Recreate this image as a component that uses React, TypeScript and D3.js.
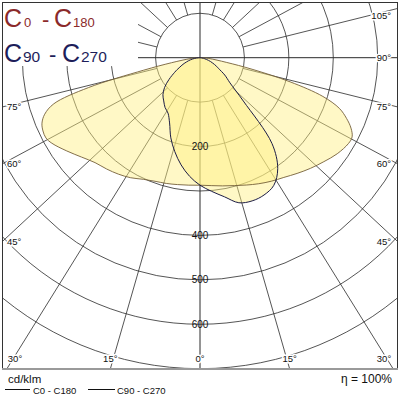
import React from 'react';
import * as d3 from 'd3';

// Gamma angles (degrees from nadir) for every half-plane
const gammaAngles = [0, 5, 10, 15, 20, 25, 30, 35, 40, 45, 50, 55, 60, 62.5, 65, 67.5, 70, 72.5, 75, 77.5, 80, 85, 90];
// Luminous intensity, cd/klm
const c0Values = [287, 289, 293, 298, 305, 313, 321, 329, 340, 352, 364, 377, 386, 386, 375, 357, 334, 290, 210, 120, 60, 20, 0];
const c180Values = [287, 288, 290, 293, 296, 302, 312, 320, 327, 334, 348, 366, 385, 391, 390, 385, 372, 345, 260, 130, 65, 20, 0];
const c90Values = [287, 302, 318, 338, 343, 341, 332, 305, 252, 138, 88, 68, 48, 42, 36, 30, 25, 20, 15, 11, 8, 3, 0];
const c270Values = [287, 268, 245, 219, 192, 162, 144, 137, 127, 118, 104, 85, 66, 58, 50, 44, 38, 32, 27, 22, 17, 8, 0];

const ringValues = [100, 200, 300, 400, 500, 600, 700];
const ringLabels = ['200', '400', '500', '600'];
const rayAngles = [15, 30, 45, 60, 75, 105, 120, 135, 150, 165];
const angleLabels = [0, 15, 30, 45, 60, 75, 90, 105];
const unitLabel = 'cd/klm';
const efficiencyLabel = 'η = 100%';
const seriesNames = ['C0 - C180', 'C90 - C270'];

const FONT = 'Liberation Sans, Arial, sans-serif';

export default function App() {
  const cx = 200;
  const cy = 57.7;
  const r = d3.scaleLinear().domain([0, 700]).range([0, 311]);
  const frame = { x0: 2.5, y0: 2.5, x1: 397.5, y1: 369 };
  const legendBox = { w: 138, h: 66 };
  const K = 0.93; // grid ray aspect of the original drawing

  const dir = (deg: number, side: number): [number, number] => {
    const t = (deg * Math.PI) / 180;
    const ux = side * Math.sin(t);
    const uy = K * Math.cos(t);
    const n = Math.hypot(ux, uy);
    return [ux / n, uy / n];
  };
  const hit = (ux: number, uy: number): [number, number, string] => {
    const c: [number, string][] = [];
    if (ux > 1e-9) c.push([(frame.x1 - cx) / ux, 'right']);
    if (ux < -1e-9) c.push([(frame.x0 - cx) / ux, 'left']);
    if (uy > 1e-9) c.push([(frame.y1 - cy) / uy, 'bottom']);
    if (uy < -1e-9) c.push([(frame.y0 - cy) / uy, 'top']);
    c.sort((a, b) => a[0] - b[0]);
    const t = c[0][0];
    return [cx + ux * t, cy + uy * t, c[0][1]];
  };

  const radial = d3
    .lineRadial<[number, number]>()
    .angle((d) => d[0])
    .radius((d) => d[1])
    .curve(d3.curveCatmullRomClosed.alpha(0.5));

  const shape = (right: number[], left: number[]) => {
    const pts: [number, number][] = [];
    for (let i = gammaAngles.length - 1; i >= 0; i--)
      pts.push([Math.PI - (gammaAngles[i] * Math.PI) / 180, r(right[i])]);
    for (let i = 1; i < gammaAngles.length - 1; i++)
      pts.push([Math.PI + (gammaAngles[i] * Math.PI) / 180, r(left[i])]);
    return radial(pts) || '';
  };

  const rays: { x1: number; y1: number; x2: number; y2: number }[] = [];
  rayAngles.forEach((a) => {
    [1, -1].forEach((side) => {
      const [ux, uy] = dir(a, side);
      const [ex, ey] = hit(ux, uy);
      rays.push({ x1: cx + ux * r(100), y1: cy + uy * r(100), x2: ex, y2: ey });
    });
  });

  const labels: { x: number; y: number; anchor: string; text: string }[] = [];
  angleLabels.forEach((a) => {
    const sides = a === 0 ? [1] : [1, -1];
    sides.forEach((side) => {
      const [ux, uy] = dir(a, side);
      const [ex, ey, edge] = hit(ux, uy);
      let lab: { x: number; y: number; anchor: string; text: string } | null = null;
      if (edge === 'bottom') {
        lab = { x: Math.max(15, Math.min(384, ex)), y: 358, anchor: 'middle', text: `${a}°` };
      } else if (edge === 'right') {
        lab = { x: 391, y: Math.max(15, Math.min(358, ey)), anchor: 'end', text: `${a}°` };
      } else if (edge === 'left') {
        lab = { x: 7, y: Math.max(15, Math.min(358, ey)), anchor: 'start', text: `${a}°` };
      }
      // labels under the legend box are hidden in the original
      if (lab && !(lab.x < legendBox.w && lab.y < legendBox.h + 4)) labels.push(lab);
    });
  });

  const gridStroke = '#2a2a2a';
  const fill = '#fff080';

  return (
    <svg
      width={400}
      height={400}
      viewBox="0 0 400 400"
      style={{ position: 'fixed', left: 0, top: 0, background: '#fff' }}
    >
      <defs>
        <clipPath id="frameClip">
          <rect x={frame.x0} y={frame.y0} width={frame.x1 - frame.x0} height={frame.y1 - frame.y0} />
        </clipPath>
      </defs>
      <rect x={0} y={0} width={400} height={400} fill="#fff" />
      <g clipPath="url(#frameClip)">
        {ringValues.map((v) => (
          <circle key={v} cx={cx} cy={cy} r={r(v)} fill="none" stroke={gridStroke} strokeWidth={0.8} />
        ))}
        {rays.map((l, i) => (
          <line key={i} x1={l.x1} y1={l.y1} x2={l.x2} y2={l.y2} stroke={gridStroke} strokeWidth={0.8} />
        ))}
        <line x1={0} y1={cy} x2={400} y2={cy} stroke={gridStroke} strokeWidth={1} />
        <line x1={cx} y1={0} x2={cx} y2={400} stroke={gridStroke} strokeWidth={1} />
        <g transform={`translate(${cx},${cy})`}>
          <path d={shape(c0Values, c180Values)} fill={fill} fillOpacity={0.45} stroke="none" />
          <path d={shape(c90Values, c270Values)} fill={fill} fillOpacity={0.45} stroke="none" />
          <path d={shape(c0Values, c180Values)} fill="none" stroke="#75603a" strokeWidth={0.9} />
          <path d={shape(c90Values, c270Values)} fill="none" stroke="#1c1c44" strokeWidth={1} />
        </g>
      </g>
      {ringLabels.map((t) => (
        <text
          key={t}
          x={cx}
          y={cy + r(+t)}
          textAnchor="middle"
          dominantBaseline="central"
          fontFamily={FONT}
          fontSize={10}
          fill="#111"
        >
          {t}
        </text>
      ))}
      {labels.map((l, i) => (
        <text
          key={i}
          x={l.x}
          y={l.y}
          textAnchor={l.anchor as any}
          dominantBaseline="central"
          fontFamily={FONT}
          fontSize={9.5}
          fill="#111"
          stroke="#fff"
          strokeWidth={3}
          paintOrder="stroke"
        >
          {l.text}
        </text>
      ))}
      {/* legend box */}
      <rect x={0} y={0} width={legendBox.w} height={legendBox.h} fill="#fff" />
      <g fontFamily={FONT} fill="#8b2a2a">
        <text x={4} y={27} fontSize={25}>C</text>
        <text x={24} y={27} fontSize={13}>0</text>
        <text x={42} y={27} fontSize={22}>-</text>
        <text x={54} y={27} fontSize={25}>C</text>
        <text x={73} y={27} fontSize={13}>180</text>
      </g>
      <g fontFamily={FONT} fill="#1e1e5a">
        <text x={4} y={61.5} fontSize={25}>C</text>
        <text x={23} y={61.5} fontSize={15.5}>90</text>
        <text x={49} y={61.5} fontSize={22}>-</text>
        <text x={62} y={61.5} fontSize={25}>C</text>
        <text x={81} y={61.5} fontSize={15.5}>270</text>
      </g>
      <rect
        x={frame.x0}
        y={frame.y0}
        width={frame.x1 - frame.x0}
        height={frame.y1 - frame.y0}
        fill="none"
        stroke="#333"
        strokeWidth={1}
      />
      <line x1={2} y1={369} x2={398} y2={369} stroke="#9a9a9a" strokeWidth={2.2} />
      <text x={8} y={383} fontFamily={FONT} fontSize={11.5} fill="#111">{unitLabel}</text>
      <text x={392} y={383} textAnchor="end" fontFamily={FONT} fontSize={12} fill="#111">{efficiencyLabel}</text>
      <line x1={5} y1={389.5} x2={30} y2={389.5} stroke="#111" strokeWidth={1} />
      <text x={33} y={393.5} fontFamily={FONT} fontSize={9.5} fill="#111">{seriesNames[0]}</text>
      <line x1={88} y1={389.5} x2={115} y2={389.5} stroke="#111" strokeWidth={1} />
      <text x={117} y={393.5} fontFamily={FONT} fontSize={9.5} fill="#111">{seriesNames[1]}</text>
    </svg>
  );
}
